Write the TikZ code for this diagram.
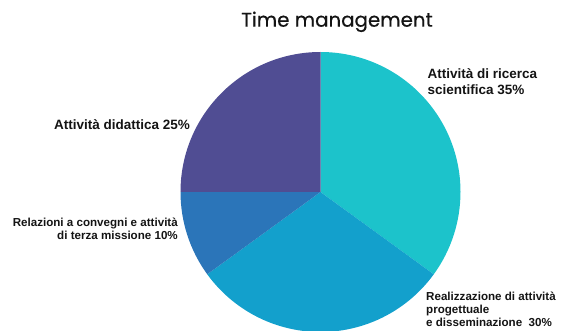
\documentclass[tikz,border=0pt]{standalone}
\usepackage{fontspec}
\setmainfont{Liberation Sans}
\newfontfamily\titlefont[FakeBold=0.5]{Poppins}
\definecolor{cRic}{RGB}{28,195,203}
\definecolor{cReal}{RGB}{19,160,204}
\definecolor{cRel}{RGB}{43,117,185}
\definecolor{cDid}{RGB}{80,77,147}
\definecolor{cTxt}{RGB}{20,20,20}
\begin{document}
\begin{tikzpicture}[x=1pt,y=-1pt,
  lab/.style={inner sep=0pt,font=\bfseries,text=cTxt},
  bigl/.style={lab,font=\fontsize{13.5}{16}\selectfont\bfseries},
  smalll/.style={lab,font=\fontsize{11.6}{13.2}\selectfont\bfseries}]
\useasboundingbox (0,0) rectangle (571,331);
\clip (0,0) rectangle (571,331);
\coordinate (c) at (320.5,192);
\def\R{140}
% slices
\fill[cRic]  (c) -- ++(0,-\R) arc[start angle=-90, end angle=36, radius=\R] -- cycle;
\fill[cReal] (c) -- ++(36:\R) arc[start angle=36, end angle=144, radius=\R] -- cycle;
\fill[cRel]  (c) -- ++(144:\R) arc[start angle=144, end angle=180, radius=\R] -- cycle;
\fill[cDid]  (c) -- ++(180:\R) arc[start angle=180, end angle=270, radius=\R] -- cycle;
% title
\node[inner sep=0pt,anchor=base,text=cTxt,font=\fontsize{19.8}{22}\selectfont\titlefont] (title) at (337,26.7) {Time management};
% labels (base anchor = baseline of last line)
\node[bigl,anchor=base east] (did) at (190,130) {Attività didattica 25\%};
\node[bigl,anchor=base west,align=left] (ric) at (427.5,94.5) {Attività di ricerca\\scientifica 35\%};
\node[smalll,anchor=base east,align=right] (rel) at (178,240) {Relazioni a convegni e attività\\di terza missione 10\%};
\node[smalll,anchor=base west,align=left] (real) at (426,326.7) {Realizzazione di attività\\progettuale\\e disseminazione\ \ 30\%};
\end{tikzpicture}
\end{document}
